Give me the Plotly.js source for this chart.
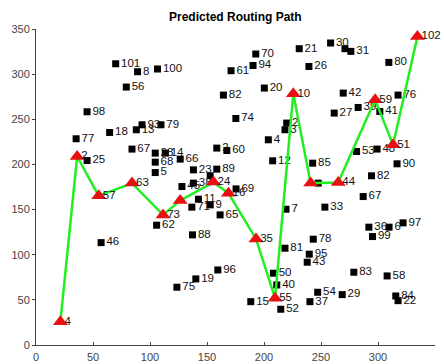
<!DOCTYPE html>
<html>
<head>
<meta charset="utf-8">
<script src="https://cdn.plot.ly/plotly-3.0.1.min.js"></script>
<style>html,body{margin:0;padding:0;background:#fff;}#chart{width:444px;height:364px;}</style>
</head>
<body>
<div id="chart"></div>
<script>
// Sensor nodes (squares)
const nodeX = [69.9, 89.1, 106.6, 79.2, 44.8, 35.2, 44.8, 64.6, 88.0, 93.0, 109.6, 84.2, 104.6, 113.4, 104.6, 104.6, 105.8, 57.1,
  126.5, 158.6, 167.4, 203.8, 207.6, 219.9, 218.4, 138.1, 158.6, 152.8, 175.5, 128.0, 138.1, 142.5, 136.7, 152.8, 161.5, 219.3,
  137.3, 159.5, 140.2, 123.6, 188.4, 218.4, 208.2, 211.2, 214.7,
  281.2, 299.2, 316.7, 242.7, 247.6, 294.3, 287.0, 253.4, 322.0, 292.0, 309.7, 295.2, 243.2, 239.7, 237.9, 278.8, 308.0, 247.1, 240.3, 268.6, 315.6, 317.6,
  192.8, 190.4, 171.1, 200.3, 164.4, 175.3, 230.9, 258.4, 271.0, 276.2, 239.4, 309.5, 269.5, 317.6, 261.6, 282.6, 301.6];
const nodeY = [311.5, 302.7, 305.7, 285.7, 258.3, 228.4, 204.3, 235.4, 238.4, 243.9, 243.9, 217.0, 212.5, 212.5, 202.5, 191.0, 132.7, 113.4,
  205.9, 218.1, 215.4, 227.3, 204.0, 245.8, 238.4, 194.0, 194.8, 187.4, 172.9, 175.5, 179.3, 161.5, 152.7, 155.2, 144.1, 150.4,
  122.0, 83.1, 73.2, 64.0, 48.0, 107.2, 79.5, 66.5, 39.6,
  214.3, 217.0, 200.7, 201.4, 179.3, 187.4, 164.4, 152.7, 135.3, 130.5, 130.5, 120.1, 117.2, 100.6, 91.7, 80.6, 76.5, 58.4, 48.0, 55.8, 54.3, 49.1,
  322.3, 309.6, 303.8, 284.6, 276.8, 250.9, 328.2, 334.5, 328.2, 325.2, 308.5, 313.0, 279.0, 276.8, 256.9, 263.1, 258.6];
const nodeLabel = ["101", "8", "100", "56", "98", "77", "25", "18", "13", "93", "79", "67", "28", "14", "68", "5", "62", "46",
  "66", "2", "60", "4", "12", "2", "3", "23", "89", "", "69", "45", "38", "11", "71", "9", "65", "7",
  "88", "96", "19", "75", "15", "81", "50", "40", "52",
  "53", "48", "90", "85", "", "82", "67", "33", "97", "36", "6", "99", "78", "95", "43", "83", "58", "54", "37", "29", "84", "22",
  "70", "94", "61", "20", "82", "74", "21", "30", "", "31", "26", "80", "42", "76", "27", "39", "41"];

// Predicted routing path (triangles)
const pathX = [21.4, 36.1, 55.0, 84.2, 111.4, 126.5, 155.6, 168.8, 193.0, 209.7, 225.7, 240.9, 265.1, 297.5, 313.2, 334.6];
const pathY = [25.8, 208.8, 165.2, 179.3, 144.1, 160.0, 180.4, 168.2, 117.5, 51.8, 278.3, 179.3, 179.9, 271.6, 221.7, 341.8];
const pathLabel = ["4", "2", "57", "63", "73", "", "24", "16", "35", "55", "10", "", "44", "59", "51", "102"];

const xTicks = [0, 50, 100, 150, 200, 250, 300, 350];
const yTicks = [0, 50, 100, 150, 200, 250, 300, 350];

const font = "Arial, 'Liberation Sans', Helvetica, sans-serif";

const traces = [
  {
    x: nodeX, y: nodeY, text: nodeLabel, type: 'scatter', mode: 'markers+text',
    textposition: 'middle right',
    textfont: {family: font, size: 11.5, color: '#111'},
    marker: {symbol: 'square', size: 7, color: '#000'},
    hoverinfo: 'none', showlegend: false, cliponaxis: false
  },
  {
    x: pathX, y: pathY, type: 'scatter', mode: 'lines',
    line: {color: '#22ee22', width: 2.5},
    hoverinfo: 'none', showlegend: false
  },
  {
    x: pathX, y: pathY, type: 'scatter', mode: 'markers',
    marker: {symbol: 'triangle-up', size: 13, color: '#e81010'},
    hoverinfo: 'none', showlegend: false, cliponaxis: false
  },
  {
    x: pathX, y: pathY, text: pathLabel, type: 'scatter', mode: 'markers+text',
    textposition: 'middle right',
    textfont: {family: font, size: 11.5, color: '#111'},
    marker: {size: 5, opacity: 0, color: '#fff'},
    hoverinfo: 'none', showlegend: false, cliponaxis: false
  }
];

const layout = {
  width: 444, height: 364,
  margin: {l: 35.5, r: 8.7, t: 29.3, b: 19},
  paper_bgcolor: '#fff', plot_bgcolor: '#fff',
  title: {text: 'Predicted Routing Path', font: {family: font, size: 12, color: '#000', weight: 'bold'},
          x: 0.53, xanchor: 'center', y: 0.955, yanchor: 'middle'},
  xaxis: {
    range: [0, 350], tickvals: xTicks, ticktext: xTicks.map(String),
    showgrid: false, zeroline: false, showline: true, linecolor: '#444', linewidth: 1,
    ticks: 'inside', ticklen: 3, tickcolor: '#444', ticklabelstandoff: 2,
    tickfont: {family: font, size: 11, color: '#444'}, mirror: false
  },
  yaxis: {
    range: [0, 350], tickvals: yTicks, ticktext: yTicks.map(String),
    showgrid: false, zeroline: false, showline: true, linecolor: '#444', linewidth: 1,
    ticks: 'outside', ticklen: 3, tickcolor: '#444',
    tickfont: {family: font, size: 11, color: '#444'}, mirror: false
  },
  showlegend: false
};

Plotly.newPlot('chart', traces, layout, {displayModeBar: false, staticPlot: true});
</script>
</body>
</html>
